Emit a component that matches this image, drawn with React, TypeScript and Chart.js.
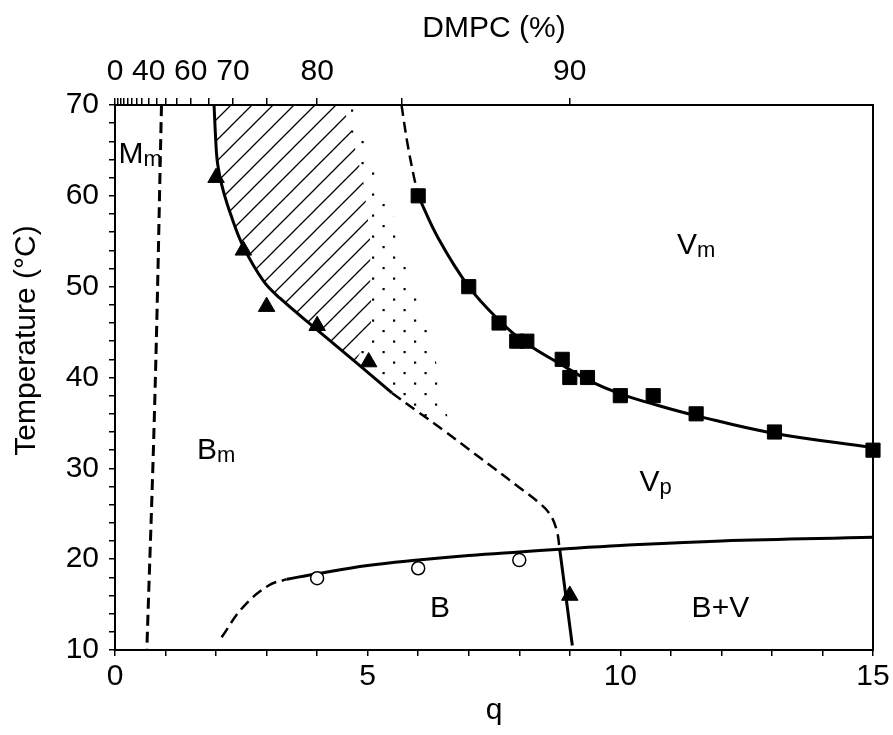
import React, { useEffect, useRef } from 'react';
import { Chart, registerables } from 'chart.js';

Chart.register(...registerables);

const FONT = '"Liberation Sans", Arial, Helvetica, sans-serif';

// ---- data ----
// filled triangles
const triangleQ = [2.0, 2.54, 3.0, 4.0, 5.02, 9.0];
const triangleT = [62.0, 54.0, 47.8, 45.7, 41.7, 16.0];

// filled squares
const squareQ = [6.0, 7.0, 7.6, 7.95, 8.15, 8.85, 9.0, 9.35, 10.0, 10.65, 11.5, 13.05, 15.0];
const squareT = [60, 50, 46, 44, 44, 42, 40, 40, 38, 38, 36, 34, 32];

// open circles
const circleQ = [4.0, 6.0, 8.0];
const circleT = [17.9, 19.0, 19.9];

// solid boundary of the hatched region (left)
const leftBoundaryQ = [1.96, 1.99, 2.02, 2.08, 2.15, 2.28, 2.54, 2.94, 3.27, 4.0, 4.78, 5.48];
const leftBoundaryT = [70, 66.5, 64.0, 62.0, 60.4, 58.1, 54.4, 50.6, 48.7, 45.25, 41.6, 38.3];

// solid curve through squares
const vmCurveQ = [6.0, 6.4, 7.0, 7.6, 8.1, 8.9, 9.4, 10.0, 10.7, 11.5, 13.0, 15.0];
const vmCurveT = [60, 55.3, 50, 46.3, 43.9, 41.2, 39.6, 38.2, 37.0, 35.8, 33.9, 32.3];

// dashed curve from top to first square
const upperDashQ = [5.67, 5.78, 5.9, 6.0];
const upperDashT = [70, 66, 62.5, 60];

// dashed curve in the middle
const midDashQ = [5.48, 6.0, 6.5, 7.0, 7.5, 8.0, 8.35, 8.6, 8.74, 8.8];
const midDashT = [38.3, 36.2, 34.2, 32.1, 30.0, 27.9, 26.4, 25.0, 23.2, 21.1];

// dashed near-vertical line at the left
const leftDashQ = [0.92, 0.79, 0.63];
const leftDashT = [70, 38, 10];

// solid lower curve
const lowerSolidQ = [3.4, 4, 5, 6, 7, 8, 8.8, 10, 12, 15];
const lowerSolidT = [17.8, 18.4, 19.3, 19.9, 20.4, 20.8, 21.1, 21.5, 22.0, 22.4];

// dashed lower-left curve
const lowerDashQ = [2.11, 2.53, 3.04, 3.4];
const lowerDashT = [11.4, 14.7, 17.1, 17.8];

// solid near-vertical line on the right
const rightSolidQ = [8.8, 9.05];
const rightSolidT = [21.1, 10.5];

// hatched region outline
const hatchQ = [1.96, 1.99, 2.02, 2.08, 2.15, 2.28, 2.54, 2.94, 3.27, 4.0, 4.75, 5.05, 5.08, 5.05, 5.05, 4.99, 4.91, 4.79, 4.7, 4.51];
const hatchT = [70, 66.5, 64.0, 62.0, 60.4, 58.1, 54.4, 50.6, 48.7, 45.25, 41.7, 44.7, 47.4, 50, 55, 58.1, 61.7, 64.3, 66.5, 70];

// dotted region outline
const dotQ = [4.51, 4.7, 4.79, 4.91, 4.99, 5.05, 5.05, 5.08, 5.05, 4.75, 5.1, 5.48, 6.0, 6.5, 6.62, 6.53, 6.44, 6.37, 6.3, 6.17, 6.07, 5.78, 5.6, 5.4, 5.1, 4.9, 4.7];
const dotT = [70, 66.5, 64.3, 61.7, 58.1, 55, 50, 47.4, 44.7, 41.7, 40.1, 38.3, 36.2, 34.2, 34.8, 36.8, 38.8, 41.2, 43.4, 45.8, 48.3, 52.4, 55.9, 59.8, 63, 67.5, 70];

// top axis: DMPC percentage ticks and which carry labels
const dmpcTicks = [0, 5, 10, 15, 20, 25, 30, 35, 40, 45, 50, 55, 60, 65, 70, 75, 80, 85, 90];
const dmpcLabeled = [0, 40, 60, 70, 80, 90];

// region labels (main letter, subscript, q, temperature)
const labelMain = ['M', 'V', 'B', 'V', 'B', 'B+V'];
const labelSub = ['m', 'm', 'm', 'p', '', ''];
const labelQ = [0.5, 11.5, 2.0, 10.7, 6.43, 11.98];
const labelT = [64.8, 54.8, 32.2, 28.7, 14.8, 14.8];

function pts(qs: number[], ts: number[]) {
  return qs.map((q, i) => ({ x: q, y: ts[i] }));
}

function makePattern(kind: 'lines' | 'dots'): CanvasPattern | string {
  const s = 21;
  const c = document.createElement('canvas');
  c.width = s;
  c.height = s;
  const g = c.getContext('2d');
  if (!g) return '#000';
  g.strokeStyle = '#000';
  g.fillStyle = '#000';
  if (kind === 'lines') {
    g.lineWidth = 1.3;
    g.beginPath();
    g.moveTo(-2, s + 2);
    g.lineTo(s + 2, -2);
    g.moveTo(-2, 2);
    g.lineTo(2, -2);
    g.moveTo(s - 2, s + 2);
    g.lineTo(s + 2, s - 2);
    g.stroke();
  } else {
    g.fillRect(4.5, 15, 2.2, 2.2);
    g.fillRect(15, 4.5, 2.2, 2.2);
  }
  return g.createPattern(c, 'repeat') || '#000';
}

const labelPlugin = {
  id: 'regionLabels',
  afterDatasetsDraw(chart: any) {
    const { ctx, chartArea } = chart;
    const x = chart.scales.x;
    const y = chart.scales.y;
    const MAIN = 30;
    const SUB = 22;
    ctx.save();
    ctx.fillStyle = '#000';
    ctx.textAlign = 'left';
    ctx.textBaseline = 'alphabetic';
    for (let i = 0; i < labelMain.length; i++) {
      ctx.font = `${MAIN}px ${FONT}`;
      const w1 = ctx.measureText(labelMain[i]).width;
      ctx.font = `${SUB}px ${FONT}`;
      const w2 = labelSub[i] ? ctx.measureText(labelSub[i]).width : 0;
      const px = x.getPixelForValue(labelQ[i]) - (w1 + w2) / 2;
      const base = y.getPixelForValue(labelT[i]) + MAIN * 0.36;
      ctx.font = `${MAIN}px ${FONT}`;
      ctx.fillText(labelMain[i], px, base);
      if (labelSub[i]) {
        ctx.font = `${SUB}px ${FONT}`;
        ctx.fillText(labelSub[i], px + w1, base + 3);
      }
    }
    ctx.restore();
    // y-axis title
    ctx.save();
    ctx.fillStyle = '#000';
    ctx.translate(27, (chartArea.top + chartArea.bottom) / 2 - 37);
    ctx.rotate(-Math.PI / 2);
    ctx.textAlign = 'center';
    ctx.textBaseline = 'middle';
    ctx.font = `30px ${FONT}`;
    ctx.fillText('Temperature (°C)', 0, 0);
    ctx.restore();
  },
};

export default function App() {
  const ref = useRef<HTMLCanvasElement>(null);

  useEffect(() => {
    const canvas = ref.current;
    if (!canvas) return;
    const hatch = makePattern('lines');
    const dots = makePattern('dots');

    const line = (data: any[], dashed: boolean, width = 3) => ({
      data,
      borderColor: '#000',
      borderWidth: width,
      borderDash: dashed ? [11, 6] : [],
      pointRadius: 0,
      tension: 0.4,
      fill: false,
      order: 5,
      xAxisID: 'x',
      yAxisID: 'y',
    });
    const area = (data: any[], bg: any) => ({
      data,
      borderColor: 'rgba(0,0,0,0)',
      borderWidth: 0,
      backgroundColor: bg,
      pointRadius: 0,
      tension: 0,
      fill: 'shape',
      order: 10,
      xAxisID: 'x',
      yAxisID: 'y',
    });
    const marker = (data: any[], style: string, r: number, bg: string, bw: number) => ({
      data,
      showLine: false,
      pointStyle: style,
      pointRadius: r,
      backgroundColor: bg,
      borderColor: '#000',
      borderWidth: bw,
      clip: false,
      order: 0,
      xAxisID: 'x',
      yAxisID: 'y',
    });

    const tickFont = { size: 30, family: FONT };
    const chart = new Chart(canvas, {
      type: 'line',
      data: {
        datasets: [
          area(pts(hatchQ, hatchT), hatch),
          area(pts(dotQ, dotT), dots),
          line(pts(leftBoundaryQ, leftBoundaryT), false),
          line(pts(vmCurveQ, vmCurveT), false),
          line(pts(upperDashQ, upperDashT), true, 2.5),
          line(pts(midDashQ, midDashT), true, 2.5),
          line(pts(leftDashQ, leftDashT), true, 3),
          line(pts(lowerSolidQ, lowerSolidT), false),
          line(pts(lowerDashQ, lowerDashT), true, 2.5),
          line(pts(rightSolidQ, rightSolidT), false),
          marker(pts(triangleQ, triangleT), 'triangle', 9.5, '#000', 1),
          marker(pts(squareQ, squareT), 'rect', 10, '#000', 1),
          marker(pts(circleQ, circleT), 'circle', 6.5, '#fff', 1.5),
        ] as any,
      },
      options: {
        animation: false,
        responsive: false,
        maintainAspectRatio: false,
        layout: { padding: 0 },
        plugins: { legend: { display: false }, tooltip: { enabled: false } },
        scales: {
          x: {
            type: 'linear',
            position: 'bottom',
            min: 0,
            max: 15,
            afterFit: (s: any) => { s.height = 85; },
            ticks: {
              stepSize: 1,
              autoSkip: false,
              maxRotation: 0,
              padding: 3,
              color: '#000',
              font: tickFont,
              callback: (v: any) => (Number(v) % 5 === 0 ? String(v) : ''),
            },
            grid: { drawOnChartArea: false, tickLength: 6, color: '#000', lineWidth: 1.5 },
            border: { color: '#000', width: 2 },
            title: { display: true, text: 'q', color: '#000', font: { size: 30, family: FONT }, padding: { top: 0, bottom: 6 } },
          },
          x2: {
            type: 'linear',
            position: 'top',
            min: 0,
            max: 15,
            afterFit: (s: any) => { s.height = 105; },
            afterBuildTicks: (s: any) => {
              s.ticks = dmpcTicks.map((p) => ({ value: p / (100 - p) }));
            },
            ticks: {
              autoSkip: false,
              maxRotation: 0,
              padding: 8,
              color: '#000',
              font: tickFont,
              callback: (_v: any, i: number) => (dmpcLabeled.includes(dmpcTicks[i]) ? String(dmpcTicks[i]) : ''),
            },
            grid: { drawOnChartArea: false, tickLength: 7, color: '#000', lineWidth: 1.5 },
            border: { color: '#000', width: 2 },
            title: { display: true, text: 'DMPC (%)', color: '#000', font: { size: 30, family: FONT }, padding: { top: 11, bottom: 0 } },
          },
          y: {
            type: 'linear',
            position: 'left',
            min: 10,
            max: 70,
            afterFit: (s: any) => { s.width = 115; },
            ticks: {
              stepSize: 2,
              autoSkip: false,
              padding: 10,
              color: '#000',
              font: tickFont,
              callback: (v: any) => (Number(v) % 10 === 0 ? String(v) : ''),
            },
            grid: { drawOnChartArea: false, tickLength: 6, color: '#000', lineWidth: 1.5 },
            border: { color: '#000', width: 2 },
          },
          y2: {
            type: 'linear',
            position: 'right',
            min: 10,
            max: 70,
            afterFit: (s: any) => { s.width = 20; },
            ticks: { display: false },
            grid: { display: false },
            border: { color: '#000', width: 2 },
          },
        } as any,
      },
      plugins: [labelPlugin],
    });
    return () => chart.destroy();
  }, []);

  return (
    <div style={{ position: 'fixed', left: 0, top: 0, width: 893, height: 735, background: '#fff' }}>
      <canvas ref={ref} width={893} height={735} style={{ display: 'block' }} />
    </div>
  );
}
